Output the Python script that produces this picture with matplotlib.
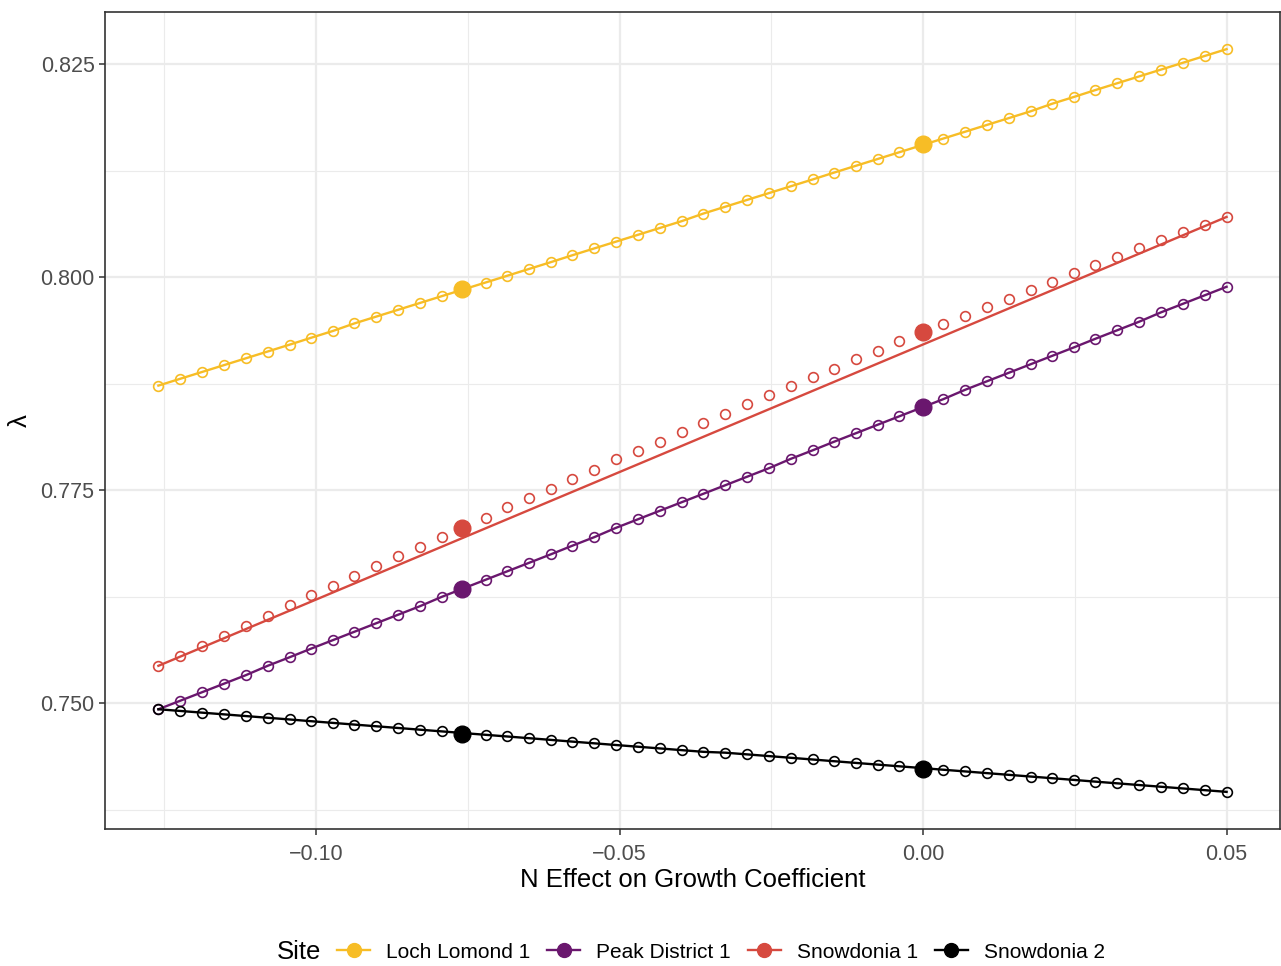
import numpy as np
import matplotlib
matplotlib.use("Agg")
import matplotlib.pyplot as plt
from matplotlib.lines import Line2D
from matplotlib.ticker import FixedLocator

plt.rcParams['font.family'] = ['Liberation Sans', 'DejaVu Sans']

# x grid (N effect on growth coefficient)
n_effect = [-0.1260, -0.1224, -0.1188, -0.1152, -0.1116, -0.1080, -0.1044, -0.1009, -0.0973, -0.0937,
            -0.0901, -0.0865, -0.0829, -0.0793, -0.0757, -0.0721, -0.0685, -0.0649, -0.0613, -0.0578,
            -0.0542, -0.0506, -0.0470, -0.0434, -0.0398, -0.0362, -0.0326, -0.0290, -0.0254, -0.0218,
            -0.0182, -0.0147, -0.0111, -0.0075, -0.0039, -0.0003, 0.0033, 0.0069, 0.0105, 0.0141,
            0.0177, 0.0213, 0.0249, 0.0284, 0.0320, 0.0356, 0.0392, 0.0428, 0.0464, 0.0500]

loch_lomond = [0.7873, 0.7881, 0.7889, 0.7897, 0.7905, 0.7913, 0.7921, 0.7929, 0.7937, 0.7946,
               0.7954, 0.7962, 0.7970, 0.7978, 0.7986, 0.7994, 0.8002, 0.8010, 0.8018, 0.8026,
               0.8034, 0.8042, 0.8050, 0.8058, 0.8066, 0.8075, 0.8083, 0.8091, 0.8099, 0.8107,
               0.8115, 0.8123, 0.8131, 0.8139, 0.8147, 0.8155, 0.8163, 0.8171, 0.8179, 0.8187,
               0.8195, 0.8204, 0.8212, 0.8220, 0.8228, 0.8236, 0.8244, 0.8252, 0.8260, 0.8268]

peak_district = [0.7493, 0.7503, 0.7513, 0.7523, 0.7533, 0.7544, 0.7554, 0.7564, 0.7574, 0.7584,
                 0.7594, 0.7604, 0.7614, 0.7625, 0.7635, 0.7645, 0.7655, 0.7665, 0.7675, 0.7685,
                 0.7695, 0.7706, 0.7716, 0.7726, 0.7736, 0.7746, 0.7756, 0.7766, 0.7776, 0.7787,
                 0.7797, 0.7807, 0.7817, 0.7827, 0.7837, 0.7847, 0.7857, 0.7868, 0.7878, 0.7888,
                 0.7898, 0.7908, 0.7918, 0.7928, 0.7938, 0.7948, 0.7959, 0.7969, 0.7979, 0.7989]

snowdonia1 = [0.7544, 0.7555, 0.7567, 0.7579, 0.7591, 0.7602, 0.7615, 0.7627, 0.7638, 0.7649,
              0.7661, 0.7673, 0.7684, 0.7695, 0.7706, 0.7718, 0.7730, 0.7741, 0.7752, 0.7763,
              0.7774, 0.7787, 0.7796, 0.7807, 0.7818, 0.7829, 0.7840, 0.7851, 0.7862, 0.7873,
              0.7883, 0.7893, 0.7904, 0.7914, 0.7925, 0.7936, 0.7945, 0.7955, 0.7965, 0.7975,
              0.7985, 0.7995, 0.8005, 0.8014, 0.8024, 0.8034, 0.8044, 0.8053, 0.8062, 0.8071]

snowdonia2 = [0.7493, 0.7491, 0.7489, 0.7487, 0.7485, 0.7483, 0.7481, 0.7479, 0.7477, 0.7475,
              0.7473, 0.7471, 0.7469, 0.7467, 0.7465, 0.7463, 0.7461, 0.7459, 0.7457, 0.7455,
              0.7453, 0.7451, 0.7449, 0.7447, 0.7445, 0.7443, 0.7442, 0.7440, 0.7438, 0.7436,
              0.7434, 0.7432, 0.7430, 0.7428, 0.7426, 0.7424, 0.7422, 0.7420, 0.7418, 0.7416,
              0.7414, 0.7412, 0.7410, 0.7408, 0.7406, 0.7404, 0.7402, 0.7400, 0.7398, 0.7396]

# straight-line approximation shown for Snowdonia 1
snow1_line_x = [-0.126, 0.05]
snow1_line_y = [0.7544, 0.8071]

# highlighted points
big_x = [-0.076, 0.0]
big_ll = [0.7986, 0.8157]
big_pd = [0.7634, 0.7848]
big_s1 = [0.7706, 0.7936]
big_s2 = [0.7464, 0.7423]

sites = ['Loch Lomond 1', 'Peak District 1', 'Snowdonia 1', 'Snowdonia 2']
colors = ['#F7BD26', '#6A176E', '#D6493F', '#000000']

fig = plt.figure(figsize=(12.81, 9.66), dpi=100)
ax = fig.add_axes([105/1281, 1-829/966, 1175/1281, 817/966])

lw = 1.7
ms_small = 7
ms_big = 12

series = [loch_lomond, peak_district, snowdonia1, snowdonia2]
bigs = [big_ll, big_pd, big_s1, big_s2]
for name, ys, bg, c in zip(sites, series, bigs, colors):
    if name == 'Snowdonia 1':
        ax.plot(snow1_line_x, snow1_line_y, color=c, lw=lw, zorder=3)
    else:
        ax.plot(n_effect, ys, color=c, lw=lw, zorder=3)
    ax.plot(n_effect, ys, 'o', mfc='none', mec=c, mew=1.2, ms=ms_small, zorder=4)
    ax.plot(big_x, bg, 'o', color=c, ms=ms_big, zorder=5)

ax.margins(0.05)
ax.xaxis.set_major_locator(FixedLocator([-0.10, -0.05, 0.00, 0.05]))
ax.xaxis.set_minor_locator(FixedLocator([-0.125, -0.075, -0.025, 0.025]))
ax.yaxis.set_major_locator(FixedLocator([0.750, 0.775, 0.800, 0.825]))
ax.yaxis.set_minor_locator(FixedLocator([0.7375, 0.7625, 0.7875, 0.8125]))
ax.set_xticklabels(['\u22120.10', '\u22120.05', '0.00', '0.05'])
ax.set_yticklabels(['0.750', '0.775', '0.800', '0.825'])

ax.grid(which='major', color='#EBEBEB', lw=1.6, zorder=0)
ax.grid(which='minor', color='#EBEBEB', lw=0.8, zorder=0)
ax.set_axisbelow(True)
ax.tick_params(which='major', length=4, width=1.1, color='#333333', labelsize=15.5, labelcolor='#4D4D4D')
ax.tick_params(axis='x', which='major', pad=6.5)
ax.tick_params(axis='y', which='major', pad=3.5)
ax.tick_params(which='minor', length=0)
for s in ax.spines.values():
    s.set_color('#333333')
    s.set_linewidth(1.2)

ax.set_xlabel('N Effect on Growth Coefficient', fontsize=18.5)
ax.set_ylabel('\u03bb', fontsize=18.5)
ax.xaxis.set_label_coords(0.5, (829-880)/817)
ax.xaxis.label.set_va('center')
ax.yaxis.set_label_coords((20-105)/1175, 0.5)
ax.yaxis.label.set_va('center')

# legend at the bottom
fig.text(277/1281, 1-952/966, 'Site', fontsize=18.5, va='center', ha='left')
handles = [Line2D([], [], color=c, lw=lw, marker='o', ms=10) for c in colors]
fig.legend(handles, sites, loc='center left', bbox_to_anchor=(337/1281, 1-952/966),
           ncol=4, frameon=False, fontsize=15.0, handlelength=1.6, handletextpad=0.76,
           columnspacing=0.8, borderpad=0, borderaxespad=0)

fig.savefig('out.png', dpi=100)
